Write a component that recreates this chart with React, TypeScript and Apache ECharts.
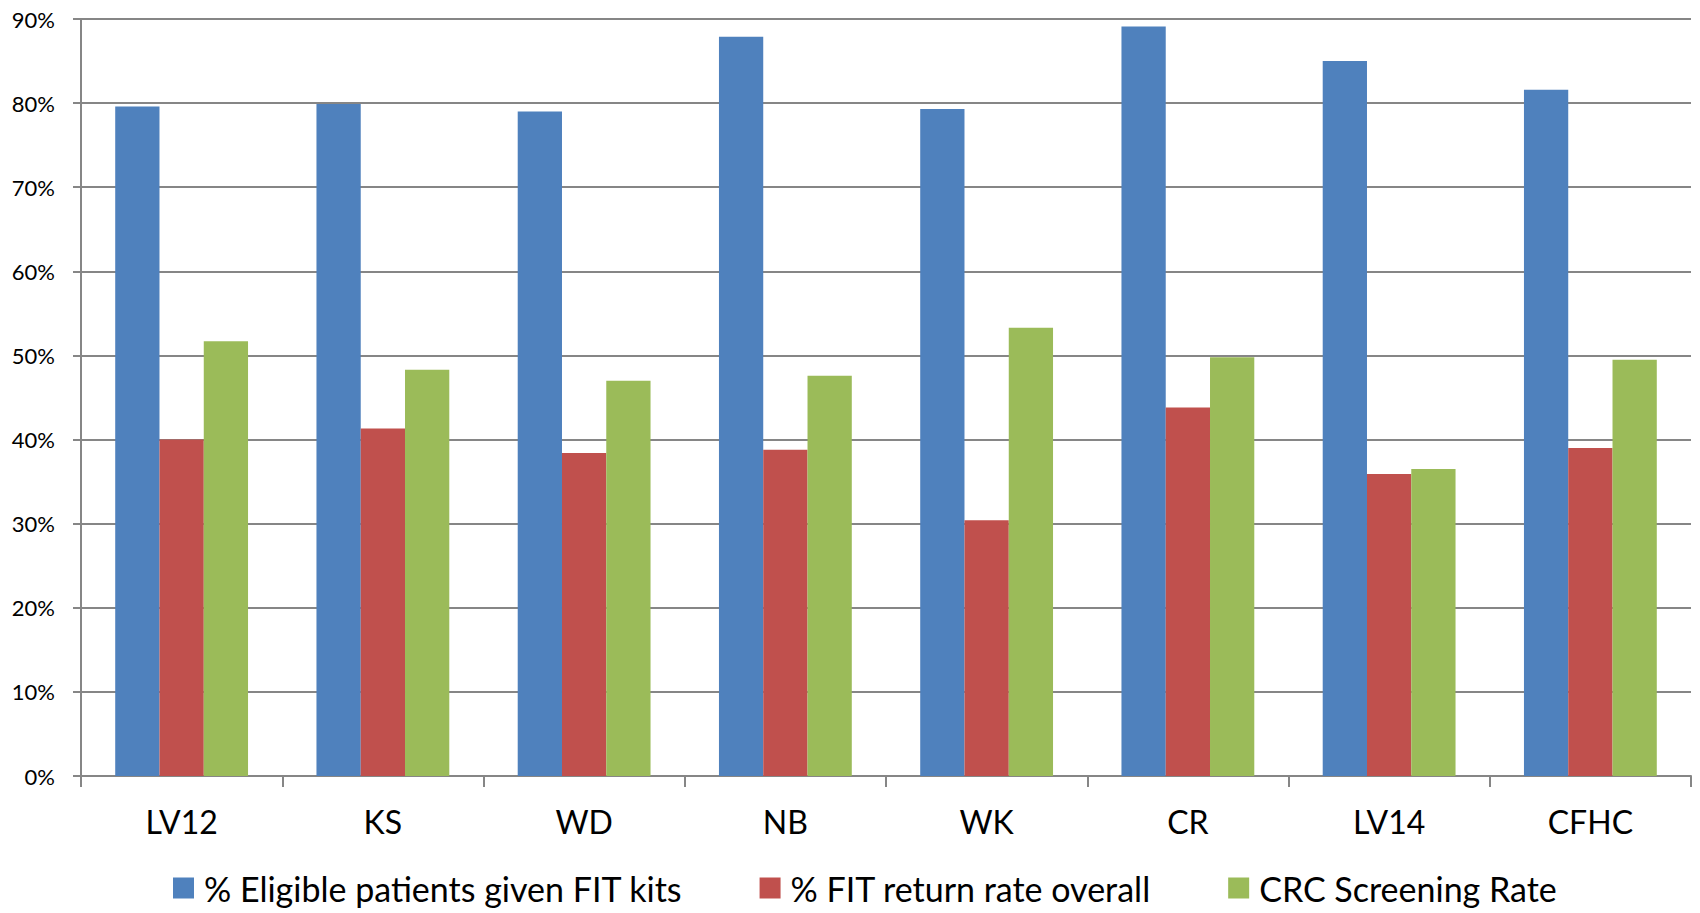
import React, { useEffect, useRef } from "react";
import * as echarts from "echarts";

const categories = ["LV12", "KS", "WD", "NB", "WK", "CR", "LV14", "CFHC"];
const eligibleGivenFit = [79.6, 79.9, 79.0, 87.9, 79.3, 89.1, 85.0, 81.6];
const fitReturnRate = [40.0, 41.3, 38.4, 38.8, 30.4, 43.8, 35.9, 39.0];
const crcScreeningRate = [51.7, 48.3, 47.0, 47.6, 53.3, 49.8, 36.5, 49.5];
const seriesNames = [
  "% Eligible patients given FIT kits",
  "% FIT return rate overall",
  "CRC Screening Rate",
];
const colors = ["#4F81BD", "#C0504D", "#9BBB59"];

export default function App() {
  const ref = useRef<HTMLDivElement>(null);
  useEffect(() => {
    if (!ref.current) return;
    const chart = echarts.init(ref.current, null, { renderer: "svg" });
    const font = "Lato, 'Open Sans', sans-serif";
    const gridColor = "#868686";
    const mk = (name: string, data: number[], color: string) => ({
      name,
      type: "bar",
      data,
      barGap: "0%",
      barCategoryGap: "34%",
      itemStyle: { color },
    });
    chart.setOption({
      animation: false,
      backgroundColor: "#ffffff",
      color: colors,
      grid: { left: 81, right: 9, top: 19, bottom: 137, containLabel: false },
      legend: {
        left: 173,
        top: 871,
        padding: 0,
        itemWidth: 21,
        itemHeight: 21,
        itemGap: 77,
        icon: "rect",
        textStyle: { fontFamily: font, fontSize: 34, color: "#000", padding: [0, 0, 0, 5] },
        data: seriesNames,
      },
      xAxis: {
        type: "category",
        data: categories,
        axisLine: { lineStyle: { color: gridColor, width: 2 } },
        axisTick: { show: true, length: 11, lineStyle: { color: gridColor, width: 2 } },
        axisLabel: { fontFamily: font, fontSize: 32, color: "#000", margin: 29 },
      },
      yAxis: {
        type: "value",
        min: 0,
        max: 90,
        interval: 10,
        axisLine: { show: true, lineStyle: { color: gridColor, width: 2 } },
        axisTick: { show: true, length: 8, lineStyle: { color: gridColor, width: 2 } },
        axisLabel: {
          fontFamily: font,
          fontSize: 22,
          color: "#000",
          margin: 26,
          formatter: "{value}%",
        },
        splitLine: { lineStyle: { color: gridColor, width: 2 } },
      },
      series: [
        mk(seriesNames[0], eligibleGivenFit, colors[0]),
        mk(seriesNames[1], fitReturnRate, colors[1]),
        mk(seriesNames[2], crcScreeningRate, colors[2]),
      ],
    });
    return () => chart.dispose();
  }, []);
  return (
    <div
      ref={ref}
      style={{ position: "fixed", left: 0, top: 0, width: 1700, height: 913, background: "#fff" }}
    />
  );
}
